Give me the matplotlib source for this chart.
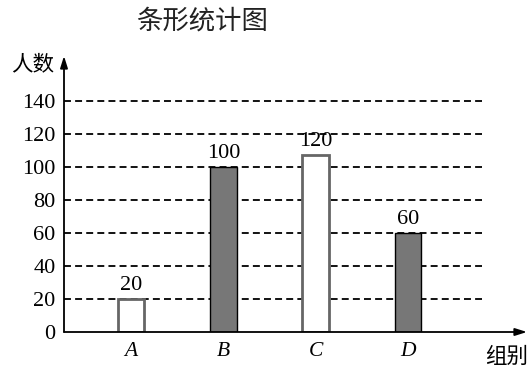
import matplotlib
matplotlib.use("Agg")
import matplotlib.pyplot as plt

plt.rcParams['lines.scale_dashes'] = False

categories = ["A", "B", "C", "D"]
values = [20, 100, 107, 60]
labels = ["20", "100", "120", "60"]
filled = [False, True, False, True]
yticks = [0, 20, 40, 60, 80, 100, 120, 140]

W, H = 532, 369
fig = plt.figure(figsize=(W / 100, H / 100), dpi=100)

# pixel geometry
x_axis_px, zero_px, top_px, right_px = 64, 332, 56, 527
ppu_y = (332 - 101) / 140.0
ppu_x = 92.3
cx0 = 131
ax = fig.add_axes([x_axis_px / W, (H - zero_px) / H,
                   (right_px - x_axis_px) / W, (zero_px - top_px) / H])
xmin = (x_axis_px - cx0) / ppu_x
xmax = (right_px - cx0) / ppu_x
ymax = (zero_px - top_px) / ppu_y
ax.set_xlim(xmin, xmax)
ax.set_ylim(0, ymax)
for s in ax.spines.values():
    s.set_visible(False)

xs = list(range(len(categories)))
grid_end = (482 - cx0) / ppu_x
for t in yticks[1:]:
    ax.plot([xmin, grid_end], [t, t], color='black', lw=1.3,
            linestyle=(0, (5, 3)), zorder=1)

for x, v, f in zip(xs, values, filled):
    if f:
        ax.bar(x, v, width=0.29, color='#777777', edgecolor='black', lw=1.0, zorder=3)
    else:
        ax.bar(x, v, width=0.29, color='white', edgecolor='#666666', lw=2.0, zorder=3)

serif = ['Liberation Serif', 'DejaVu Serif']
for x, v, lab in zip(xs, values, labels):
    ax.annotate(lab, (x, v), xytext=(0, 6.5), textcoords='offset points',
                ha='center', va='baseline', fontsize=16, family=serif, zorder=4)

ax.set_yticks(yticks)
ax.set_yticklabels([str(t) for t in yticks], family=serif, fontsize=16)
ax.set_xticks(xs)
ax.set_xticklabels(categories, family=serif, fontsize=15.5, style='italic')
ax.tick_params(axis='y', length=0, pad=6)
ax.tick_params(axis='x', length=0, pad=7)

# axes with arrows
ax.annotate('', xy=(xmin, ymax), xytext=(xmin, 0),
            arrowprops=dict(arrowstyle='-|>,head_length=0.7,head_width=0.22',
                            color='black', lw=1.3, shrinkA=0, shrinkB=0),
            annotation_clip=False)
ax.annotate('', xy=(xmax, 0), xytext=(xmin, 0),
            arrowprops=dict(arrowstyle='-|>,head_length=0.7,head_width=0.22',
                            color='black', lw=1.3, shrinkA=0, shrinkB=0),
            annotation_clip=False)

cjk = ['Noto Sans CJK SC', 'DejaVu Sans']
fig.text(202 / W, 1 - 21 / H, '条形统计图', ha='center', va='center',
         fontsize=19, family=cjk, color='#222222', weight='medium')
fig.text(33 / W, 1 - 64 / H, '人数', ha='center', va='center',
         fontsize=15.5, family=cjk, weight='medium')
fig.text(507 / W, 1 - 357 / H, '组别', ha='center', va='center',
         fontsize=15.5, family=cjk, weight='medium')

fig.savefig('out.png', dpi=100)
